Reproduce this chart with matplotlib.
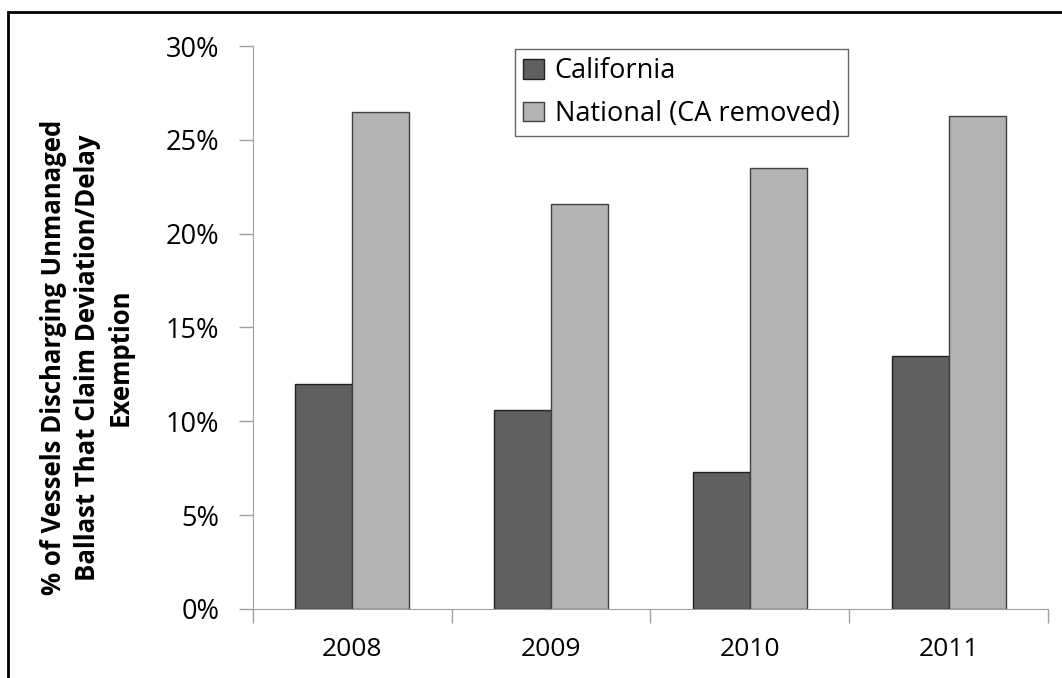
import numpy as np
import matplotlib.pyplot as plt
from matplotlib.patches import Rectangle
from matplotlib.ticker import FuncFormatter

years = ['2008', '2009', '2010', '2011']
california = [12.0, 10.6, 7.3, 13.5]
national = [26.5, 21.6, 23.5, 26.3]

plt.rcParams['font.family'] = ['Open Sans', 'DejaVu Sans']

fig = plt.figure(figsize=(10.62, 6.78), dpi=100)
ax = fig.add_axes([0.238, 0.102, 0.749, 0.830])

x = np.arange(len(years))
w = 0.287
ax.bar(x - w/2, california, w, color='#606060', edgecolor='#202020', linewidth=1, label='California')
ax.bar(x + w/2, national, w, color='#b3b3b3', edgecolor='#404040', linewidth=1, label='National (CA removed)')

ax.set_xlim(-0.5, 3.5)
ax.set_ylim(0, 30)
ax.set_yticks(np.arange(0, 31, 5))
ax.yaxis.set_major_formatter(FuncFormatter(lambda v, p: '%d%%' % v))
ax.set_xticks(x)
ax.set_xticklabels(years)
ax.set_xticks(np.arange(-0.5, 4, 1), minor=True)
ax.tick_params(axis='x', which='major', length=0, pad=20, labelsize=19)
ax.tick_params(axis='x', which='minor', length=10, color='#a0a0a0', width=1)
ax.tick_params(axis='y', length=10, color='#a0a0a0', width=1, labelsize=19.5, pad=14)

for s in ['top', 'right']:
    ax.spines[s].set_visible(False)
for s in ['left', 'bottom']:
    ax.spines[s].set_color('#a0a0a0')

leg = ax.legend(loc='upper left', bbox_to_anchor=(0.330, 0.995), fontsize=19.5, frameon=True,
                fancybox=False, handlelength=0.75, handleheight=0.75, handletextpad=0.4,
                borderpad=0.3, labelspacing=0.55, borderaxespad=0)
leg.get_frame().set_edgecolor('#404040')
leg.get_frame().set_linewidth(1)

fig.text(0.082, 0.473, '% of Vessels Discharging Unmanaged\nBallast That Claim Deviation/Delay\nExemption',
         rotation=90, ha='center', va='center', fontsize=18.5, fontweight='bold', linespacing=1.3)

# outer frame
fig.patches.append(Rectangle((8/1062, -0.05), 1.1, 1 - 12/678 + 0.05, transform=fig.transFigure,
                             fill=False, edgecolor='black', linewidth=2))

fig.savefig('out.png', dpi=100)
